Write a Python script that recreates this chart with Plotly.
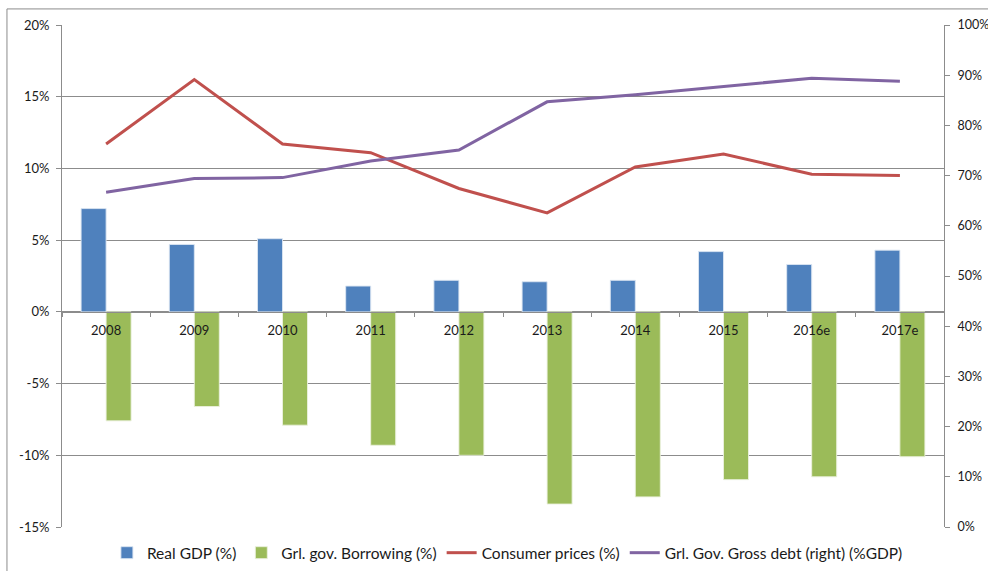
import plotly.graph_objects as go

years = ["2008", "2009", "2010", "2011", "2012", "2013", "2014", "2015", "2016e", "2017e"]
real_gdp = [7.2, 4.7, 5.1, 1.8, 2.2, 2.1, 2.2, 4.2, 3.3, 4.3]
borrowing = [-7.6, -6.6, -7.9, -9.3, -10.0, -13.4, -12.9, -11.7, -11.5, -10.1]
consumer_prices = [11.7, 16.2, 11.7, 11.1, 8.6, 6.9, 10.1, 11.0, 9.6, 9.5]
gross_debt = [66.7, 69.4, 69.6, 72.9, 75.1, 84.7, 86.1, 87.7, 89.4, 88.8]

left_ticks = [-15, -10, -5, 0, 5, 10, 15, 20]
left_labels = [f"{v}%" for v in left_ticks]
right_ticks = list(range(0, 101, 10))
right_labels = [f"{v}%" for v in right_ticks]

FONT = "Lato, 'Liberation Sans', sans-serif"
GRID = "#8c8c8c"

fig = go.Figure()
fig.add_trace(go.Bar(x=years, y=real_gdp, name="Real GDP (%)",
                     marker=dict(color="#4F81BD", line=dict(color="rgba(220,230,242,0.9)", width=1))))
fig.add_trace(go.Bar(x=years, y=borrowing, name="Grl. gov. Borrowing (%)",
                     marker=dict(color="#9BBB59", line=dict(color="rgba(235,241,222,0.9)", width=1))))
fig.add_trace(go.Scatter(x=years, y=consumer_prices, name="Consumer prices (%)", mode="lines",
                         line=dict(color="#C0504D", width=3)))
fig.add_trace(go.Scatter(x=years, y=gross_debt, name="Grl. Gov. Gross debt (right) (%GDP)", mode="lines",
                         line=dict(color="#8064A2", width=3), yaxis="y2"))

fig.update_layout(
    width=988, height=571,
    margin=dict(l=62, r=44, t=25, b=44, autoexpand=False),
    paper_bgcolor="white", plot_bgcolor="white",
    font=dict(family=FONT, size=13, color="#1a1a1a"),
    barmode="group", bargap=0.433, bargroupgap=0,
    showlegend=True,
    legend=dict(orientation="h", x=0.505, xanchor="center", y=-0.052, yanchor="middle",
                font=dict(size=15.5), traceorder="normal", itemwidth=30),
    xaxis=dict(type="category", range=[-0.5, 9.5], anchor="free", position=15/35,
               showline=True, linecolor=GRID, linewidth=1, automargin=False,
               ticks="outside", ticklen=4, tickcolor=GRID, tickson="boundaries",
               showgrid=False, tickfont=dict(size=13), ticklabelstandoff=7),
    yaxis=dict(range=[-15, 20], tickvals=left_ticks, ticktext=left_labels, automargin=False,
               showgrid=True, gridcolor=GRID, gridwidth=1, zeroline=False,
               showline=True, linecolor=GRID, linewidth=1,
               ticks="outside", ticklen=5, tickcolor=GRID, ticklabelstandoff=4),
    yaxis2=dict(range=[0, 100], tickvals=right_ticks, ticktext=right_labels, automargin=False,
                overlaying="y", side="right", showgrid=False, zeroline=False,
                showline=True, linecolor=GRID, linewidth=1, tickfont=dict(size=12.5),
                ticks="outside", ticklen=5, tickcolor=GRID, ticklabelstandoff=5),
    shapes=[
        dict(type="line", xref="paper", yref="paper", x0=-0.0624, x1=1.2, y0=1.032, y1=1.032,
             line=dict(color="#8c8c8c", width=1)),
        dict(type="line", xref="paper", yref="paper", x0=-0.0624, x1=-0.0624, y0=1.032, y1=-0.2,
             line=dict(color="#8c8c8c", width=1)),
    ],
)

fig.write_html("out.html", config={"displayModeBar": False},
               post_script="document.body.style.margin='0';document.body.style.overflow='hidden';")
